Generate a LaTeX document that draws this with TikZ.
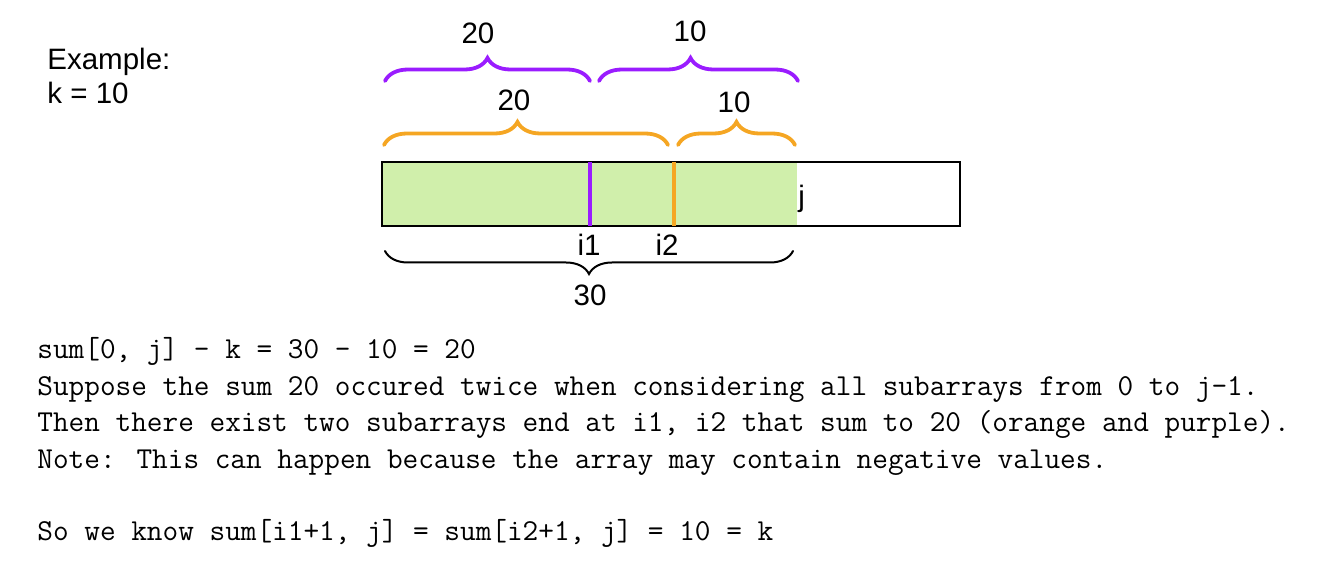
\documentclass[tikz,border=0pt]{standalone}
\usepackage{fontspec}
\setmainfont{Liberation Sans}
\usetikzlibrary{decorations.pathreplacing}
\definecolor{violetline}{HTML}{9A1CFF}
\definecolor{orangeline}{HTML}{F5A623}
\definecolor{arrgreen}{HTML}{D0EFAB}

\begin{document}
\begin{tikzpicture}[x=0.5pt,y=-0.5pt,
  lbl/.style={font=\fontsize{14.75}{17}\selectfont, inner sep=0pt},
  codeline/.style={font=\ttfamily\fontsize{15.2}{18}\selectfont, anchor=base west, inner sep=0pt},
  bracepath/.style={decorate, decoration={brace, amplitude=11.5pt}, line cap=round}]
             \useasboundingbox (0,0) rectangle (1324,577);

             % the example
             \node[lbl, anchor=base west] (exa) at (47, 70) {Example:};
             \node[lbl, anchor=base west] (kval) at (47, 104) {k = 10};

             % the array
             \coordinate (a0) at (382, 162);
             \coordinate (ai1) at (590, 162);
             \coordinate (ai2) at (674, 162);
             \coordinate (aj) at (797, 162);
             \fill[arrgreen] (382, 162) rectangle (797, 226);
             \draw[line width=1pt] (382, 162) rectangle (960, 226);
             \draw[violetline, line width=1.8pt] (ai1) -- ++(0, 64);
             \draw[orangeline, line width=1.8pt] (ai2) -- ++(0, 64);
             \node[lbl, anchor=base west] (jlbl) at (798, 207) {j};
             \node[lbl] (i1lbl) at (589, 245) {i1};
             \node[lbl] (i2lbl) at (667, 245) {i2};

             % purple braces
             \coordinate (p1) at (385, 81);
             \coordinate (p2) at (590, 81);
             \coordinate (p3) at (599, 81);
             \coordinate (p4) at (798, 81);
             \draw[bracepath, violetline, line width=1.9pt] (p1) -- (p2);
             \draw[bracepath, violetline, line width=1.9pt, decoration={aspect=.46}] (p3) -- (p4);
             \node[lbl] (ptwenty) at (478, 33) {20};
             \node[lbl] (pten) at (690, 31) {10};

             % orange braces
             \coordinate (o1) at (384, 145);
             \coordinate (o2) at (668, 145);
             \coordinate (o3) at (678, 145);
             \coordinate (o4) at (795, 145);
             \draw[bracepath, orangeline, line width=1.9pt, decoration={aspect=.47}] (o1) -- (o2);
             \draw[bracepath, orangeline, line width=1.9pt] (o3) -- (o4);
             \node[lbl] (otwenty) at (514, 100) {20};
             \node[lbl] (oten) at (734, 102) {10};

             % total
             \coordinate (b1) at (793, 251);
             \coordinate (b2) at (385, 251);
             \draw[bracepath, line width=1pt, decoration={aspect=.5}] (b1) -- (b2);
             \node[lbl] (total) at (590, 295) {30};

             % explanation
             \node[codeline] (l1) at (37, 359) {sum[0, j] - k = 30 - 10 = 20};
             \node[codeline] (l2) at (37, 396) {Suppose the sum 20 occured twice when considering all subarrays from 0 to j-1.};
             \node[codeline] (l3) at (37, 432) {Then there exist two subarrays end at i1, i2 that sum to 20 (orange and purple).};
             \node[codeline] (l4) at (37, 469) {Note: This can happen because the array may contain negative values.};
             \node[codeline] (l5) at (37, 540) {So we know sum[i1+1, j] = sum[i2+1, j] = 10 = k};
\end{tikzpicture}
\end{document}
